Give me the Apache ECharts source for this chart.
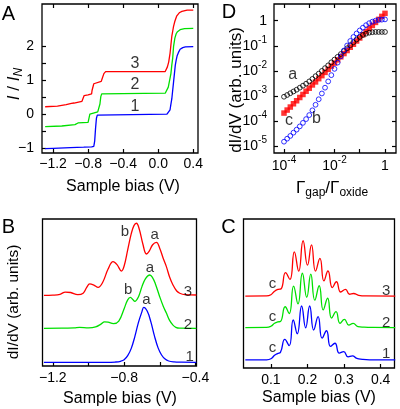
<!DOCTYPE html>
<html><head><meta charset="utf-8">
<script src="https://cdn.jsdelivr.net/npm/echarts@6/dist/echarts.min.js"></script>
<style>html,body{margin:0;padding:0;background:#fff}#c{width:400px;height:409px}</style>
</head><body><div id="c"></div>
<script>
// ---------- Panel A: I/I_N vs sample bias (V) ----------
const aBlue = [[-1.29,-1.02],[-1.2,-1.01],[-1.0,-0.99],[-0.85,-0.975],[-0.76,-0.965],[-0.735,-0.95],[-0.725,-0.8],[-0.715,-0.42],[-0.705,-0.12],[-0.695,-0.03],[-0.68,0.0],[0.10,0.0],[0.12,0.03],[0.135,0.13],[0.145,0.3],[0.155,0.45],[0.165,0.7],[0.175,0.95],[0.185,1.2],[0.195,1.45],[0.205,1.6],[0.215,1.72],[0.23,1.82],[0.25,1.92],[0.28,1.97],[0.31,1.99],[0.40,2.0]];
const aGreen = [[-1.29,-0.37],[-1.1,-0.35],[-0.95,-0.31],[-0.93,-0.29],[-0.915,-0.26],[-0.80,-0.24],[-0.79,-0.2],[-0.78,0.0],[-0.77,0.05],[-0.69,0.07],[-0.675,0.1],[-0.665,0.3],[-0.655,0.52],[-0.645,0.6],[-0.63,0.62],[0.08,0.62],[0.10,0.66],[0.115,0.8],[0.13,1.0],[0.145,1.2],[0.155,1.45],[0.165,1.65],[0.175,2.0],[0.19,2.25],[0.205,2.38],[0.22,2.44],[0.25,2.5],[0.30,2.53],[0.40,2.54]];
const aRed = [[-1.29,0.22],[-1.15,0.24],[-1.05,0.28],[-0.99,0.32],[-0.96,0.33],[-0.95,0.36],[-0.87,0.38],[-0.86,0.42],[-0.845,0.55],[-0.80,0.57],[-0.76,0.6],[-0.755,0.7],[-0.735,0.9],[-0.72,0.95],[-0.65,0.97],[-0.64,1.05],[-0.62,1.2],[-0.60,1.26],[0.08,1.26],[0.095,1.3],[0.105,1.4],[0.12,1.55],[0.135,1.8],[0.145,2.05],[0.155,2.3],[0.165,2.45],[0.175,2.6],[0.19,2.75],[0.21,2.9],[0.24,3.0],[0.27,3.04],[0.33,3.08],[0.40,3.08]];
const aXTicks = [-1.2,-0.8,-0.4,0,0.4];
const aYTicks = [-1,-0.5,0,0.5,1,1.5,2];
const aYLabels = [-1,0,1,2];

// ---------- Panel B: dI/dV (arb. units) vs bias ----------
const bBlue = [[-1.25,0.25],[-0.90,0.25],[-0.85,0.27],[-0.82,0.32],[-0.80,0.42],[-0.78,0.70],[-0.76,1.20],[-0.74,2.00],[-0.72,2.95],[-0.70,3.70],[-0.69,3.99],[-0.67,3.72],[-0.65,3.00],[-0.63,2.05],[-0.61,1.25],[-0.59,0.75],[-0.57,0.47],[-0.55,0.34],[-0.52,0.28],[-0.48,0.26],[-0.395,0.25]];
const bGreen = [[-1.25,2.56],[-1.15,2.57],[-1.08,2.6],[-1.05,2.63],[-1.0,2.6],[-0.96,2.66],[-0.93,2.85],[-0.91,3.0],[-0.89,2.98],[-0.86,2.88],[-0.83,3.05],[-0.80,3.9],[-0.78,4.5],[-0.765,4.67],[-0.75,4.5],[-0.74,4.4],[-0.72,4.7],[-0.70,5.4],[-0.68,5.95],[-0.656,6.19],[-0.64,6.0],[-0.625,5.6],[-0.60,4.7],[-0.58,4.05],[-0.563,3.6],[-0.545,3.1],[-0.526,2.78],[-0.51,2.63],[-0.49,2.57],[-0.395,2.56]];
const bRed = [[-1.25,4.80],[-1.2,4.82],[-1.16,4.88],[-1.13,5.03],[-1.10,5.0],[-1.06,4.85],[-1.03,4.95],[-1.01,5.35],[-0.993,5.58],[-0.97,5.5],[-0.946,5.35],[-0.92,5.7],[-0.89,6.6],[-0.862,7.1],[-0.84,6.9],[-0.815,6.46],[-0.80,6.8],[-0.78,7.9],[-0.76,9.0],[-0.745,9.55],[-0.731,9.71],[-0.715,9.3],[-0.695,8.3],[-0.675,7.62],[-0.66,7.8],[-0.64,8.25],[-0.619,8.41],[-0.60,8.0],[-0.58,7.3],[-0.563,6.76],[-0.545,6.05],[-0.526,5.51],[-0.505,5.1],[-0.488,4.95],[-0.46,4.85],[-0.395,4.83]];
const bXTicks = [-1.2,-1.0,-0.8,-0.6,-0.4];
const bXLabels = [-1.2,-0.8,-0.4];

// ---------- Panel C ----------
const cBlue = [[0.030,0.54],[0.088,0.55],[0.100,0.62],[0.110,0.85],[0.118,0.97],[0.126,1.05],[0.138,1.92],[0.150,1.5],[0.161,3.22],[0.172,2.3],[0.184,4.16],[0.195,2.7],[0.206,4.16],[0.217,2.55],[0.229,3.45],[0.240,2.0],[0.252,2.5],[0.263,1.45],[0.275,1.66],[0.287,1.0],[0.299,1.1],[0.311,0.75],[0.323,0.81],[0.335,0.64],[0.350,0.58],[0.37,0.55],[0.44,0.54]];
const cGreen = [[0.030,2.71],[0.088,2.72],[0.100,2.8],[0.110,3.0],[0.118,3.09],[0.126,3.12],[0.139,4.11],[0.150,3.65],[0.162,5.5],[0.174,4.3],[0.186,6.36],[0.198,4.75],[0.209,6.3],[0.220,4.55],[0.232,5.52],[0.243,3.9],[0.255,4.68],[0.266,3.35],[0.278,3.78],[0.289,3.0],[0.301,3.26],[0.313,2.88],[0.325,3.0],[0.338,2.78],[0.355,2.74],[0.38,2.72],[0.44,2.71]];
const cRed = [[0.030,4.83],[0.088,4.84],[0.100,4.92],[0.110,5.15],[0.120,5.28],[0.128,5.32],[0.140,6.4],[0.152,5.95],[0.164,7.8],[0.176,6.5],[0.188,8.54],[0.200,6.9],[0.211,8.26],[0.222,6.5],[0.234,7.36],[0.245,5.85],[0.256,6.51],[0.268,5.4],[0.279,5.79],[0.291,5.1],[0.304,5.28],[0.315,4.95],[0.326,5.0],[0.340,4.88],[0.36,4.84],[0.44,4.83]];
const cXTicks = [0.1,0.2,0.3,0.4];

// ---------- Panel D: log10 values ----------
const dLogX = [-4.000,-3.875,-3.750,-3.625,-3.500,-3.375,-3.250,-3.125,-3.000,-2.875,-2.750,-2.625,-2.500,-2.375,-2.250,-2.125,-2.000,-1.875,-1.750,-1.625,-1.500,-1.375,-1.250,-1.125,-1.000,-0.875,-0.750,-0.625,-0.500,-0.375,-0.250,-0.125,0.000];
const dLogA = [-3.03,-2.96,-2.89,-2.82,-2.75,-2.67,-2.59,-2.51,-2.42,-2.32,-2.21,-2.11,-2.00,-1.89,-1.78,-1.66,-1.55,-1.44,-1.33,-1.21,-1.10,-0.98,-0.86,-0.75,-0.65,-0.57,-0.52,-0.48,-0.46,-0.45,-0.45,-0.45,-0.45];
const dLogB = [-4.82,-4.70,-4.59,-4.46,-4.34,-4.21,-4.07,-3.92,-3.76,-3.57,-3.35,-3.13,-2.90,-2.67,-2.42,-2.17,-1.92,-1.67,-1.42,-1.19,-0.99,-0.81,-0.65,-0.51,-0.39,-0.28,-0.18,-0.10,-0.04,0.00,0.03,0.04,0.05];
const dLogC = [-3.68,-3.56,-3.44,-3.31,-3.19,-3.06,-2.94,-2.81,-2.69,-2.56,-2.44,-2.31,-2.19,-2.06,-1.94,-1.81,-1.69,-1.56,-1.44,-1.31,-1.19,-1.06,-0.94,-0.81,-0.69,-0.56,-0.44,-0.31,-0.19,-0.07,0.05,0.17,0.29];
const dXTicks = [-4,-3,-2,-1,0];
const dXLabels = [-4,-2,0];
const dYTicks = [-5,-4,-3,-2,-1,0];

// ---------- styling ----------
const FONT = '"Liberation Sans", Arial, Helvetica, sans-serif';
const RED = '#ff0000', GREEN = '#00e000', BLUE = '#0000ff';
const fmtDec = v => (Math.abs(v) < 1e-9 ? '0.0' : v.toFixed(1)).replace('-', '\u2212');
const fmtInt = v => String(Math.round(v)).replace('-', '\u2212');
const fmtPow = v => { v = Math.round(v); return v === 0 ? '{b|1}' : '{b|10}{s|' + (v < 0 ? '-' : '') + Math.abs(v) + '}'; };
const powRich = { b: { fontSize: 14, lineHeight: 22, fontFamily: FONT, color: '#000' }, s: { fontSize: 10, lineHeight: 12, verticalAlign: 'top', fontFamily: FONT, color: '#000' } };

function gridBox(left, top, width, height) {
  return { left, top, width, height, show: true, borderColor: '#000', borderWidth: 1.3, backgroundColor: 'transparent', containLabel: false };
}
function axis(o) {
  return {
    type: 'value', gridIndex: o.g, min: o.min, max: o.max, position: o.pos,
    axisLine: { show: false, onZero: false }, splitLine: { show: false },
    axisTick: o.ticks ? { show: true, inside: true, length: 4, customValues: o.ticks, lineStyle: { color: '#000', width: 1.2 } } : { show: false },
    axisLabel: o.labels ? { show: true, customValues: o.labels, formatter: o.fmt, margin: o.margin, fontSize: 14, fontFamily: FONT, color: '#000', rich: o.rich } : { show: false }
  };
}
function line(data, color, xi, yi, smooth) {
  return { type: 'line', data, xAxisIndex: xi, yAxisIndex: yi, showSymbol: false, symbol: 'none', smooth: smooth, lineStyle: { color, width: 1.3 }, itemStyle: { color }, z: 3, silent: true };
}
function notes(items, xi, yi, size) {
  return { type: 'scatter', xAxisIndex: xi, yAxisIndex: yi, symbolSize: 0, silent: true, z: 5,
    data: items.map(t => ({ value: [t[0], t[1]], name: t[2] })),
    label: { show: true, position: 'inside', formatter: '{b}', fontSize: size || 15, fontFamily: FONT, color: '#000' } };
}
const zip = (xs, ys) => xs.map((x, i) => [x, ys[i]]);

const option = {
  animation: false,
  backgroundColor: '#fff',
  grid: [gridBox(42, 4, 156, 149), gridBox(274, 4, 122, 149), gridBox(42.5, 219, 154, 147), gridBox(243.5, 219, 151, 149)],
  xAxis: [
    axis({ g: 0, min: -1.326, max: 0.454, pos: 'bottom', ticks: aXTicks, labels: aXTicks, fmt: fmtDec, margin: 4 }),
    axis({ g: 0, min: -1.326, max: 0.454, pos: 'top', ticks: aXTicks }),
    axis({ g: 1, min: -4.396, max: 0.436, pos: 'bottom', ticks: dXTicks, labels: dXLabels, fmt: fmtPow, margin: 2, rich: powRich }),
    axis({ g: 1, min: -4.396, max: 0.436, pos: 'top', ticks: dXTicks }),
    axis({ g: 2, min: -1.258, max: -0.394, pos: 'bottom', ticks: bXTicks, labels: bXLabels, fmt: fmtDec, margin: 5 }),
    axis({ g: 3, min: 0.025, max: 0.438, pos: 'bottom', ticks: cXTicks, labels: cXTicks, fmt: fmtDec, margin: 5 })
  ],
  yAxis: [
    axis({ g: 0, min: -1.149, max: 3.26, pos: 'left', ticks: aYTicks, labels: aYLabels, fmt: fmtInt, margin: 8 }),
    axis({ g: 1, min: -5.27, max: 0.663, pos: 'left', ticks: dYTicks, labels: dYTicks, fmt: fmtPow, margin: 7, rich: powRich }),
    axis({ g: 1, min: -5.27, max: 0.663, pos: 'right', ticks: dYTicks }),
    axis({ g: 2, min: 0, max: 10, pos: 'left' }),
    axis({ g: 3, min: 0, max: 10, pos: 'left' })
  ],
  series: [
    line(aBlue, BLUE, 0, 0, false), line(aGreen, GREEN, 0, 0, false), line(aRed, RED, 0, 0, false),
    notes([[-0.265, 1.51, '3'], [-0.265, 0.87, '2'], [-0.265, 0.23, '1']], 0, 0, 16),
    { type: 'scatter', xAxisIndex: 2, yAxisIndex: 1, data: zip(dLogX, dLogC), symbol: 'rect', symbolSize: 5.5, itemStyle: { color: RED }, silent: true, z: 2 },
    { type: 'scatter', xAxisIndex: 2, yAxisIndex: 1, data: zip(dLogX, dLogA), symbol: 'circle', symbolSize: 4.8, itemStyle: { color: 'rgba(0,0,0,0)', borderColor: '#000', borderWidth: 1 }, silent: true, z: 3 },
    { type: 'scatter', xAxisIndex: 2, yAxisIndex: 1, data: zip(dLogX, dLogB), symbol: 'circle', symbolSize: 4.8, itemStyle: { color: 'rgba(0,0,0,0)', borderColor: BLUE, borderWidth: 1 }, silent: true, z: 4 },
    notes([[-3.66, -2.15, 'a'], [-3.80, -3.98, 'c'], [-2.71, -3.90, 'b']], 2, 1, 16),
    line(bBlue, BLUE, 4, 3, 0.4), line(bGreen, GREEN, 4, 3, 0.4), line(bRed, RED, 4, 3, 0.4),
    notes([[-0.796, 9.14, 'b'], [-0.628, 8.91, 'a'], [-0.656, 6.65, 'a'], [-0.778, 5.17, 'b'], [-0.675, 4.49, 'a'], [-0.442, 5.05, '3'], [-0.442, 2.79, '2'], [-0.432, 0.63, '1']], 4, 3, 15),
    line(cBlue, BLUE, 5, 4, 0.5), line(cGreen, GREEN, 5, 4, 0.5), line(cRed, RED, 5, 4, 0.5),
    notes([[0.1046, 5.68, 'c'], [0.1046, 3.44, 'c'], [0.1046, 1.32, 'c'], [0.4155, 5.19, '3'], [0.4155, 3.04, '2'], [0.4155, 0.94, '1']], 5, 4, 15)
  ],
  graphic: [
    { type: 'text', x: 8.5, y: 14.5, style: { text: 'A', fontSize: 20, fontFamily: FONT, fill: '#000', align: 'center', verticalAlign: 'middle' } },
    { type: 'text', x: 229, y: 12.5, style: { text: 'D', fontSize: 20, fontFamily: FONT, fill: '#000', align: 'center', verticalAlign: 'middle' } },
    { type: 'text', x: 8.5, y: 227.5, style: { text: 'B', fontSize: 20, fontFamily: FONT, fill: '#000', align: 'center', verticalAlign: 'middle' } },
    { type: 'text', x: 228.5, y: 227.5, style: { text: 'C', fontSize: 20, fontFamily: FONT, fill: '#000', align: 'center', verticalAlign: 'middle' } },
    { type: 'text', x: 14, y: 84, rotation: Math.PI / 2, style: { text: '{i|I}{n| / }{i|I}{s|N}', align: 'center', verticalAlign: 'middle', fill: '#000',
      rich: { i: { fontSize: 17, fontStyle: 'italic', fontFamily: FONT, lineHeight: 22, fill: '#000' }, n: { fontSize: 17, fontFamily: FONT, lineHeight: 22, fill: '#000' }, s: { fontSize: 12, fontStyle: 'italic', fontFamily: FONT, lineHeight: 12, verticalAlign: 'bottom', fill: '#000' } } } },
    { type: 'text', x: 123, y: 187, style: { text: 'Sample bias (V)', fontSize: 16, fontFamily: FONT, fill: '#000', align: 'center', verticalAlign: 'middle' } },
    { type: 'text', x: 236, y: 90, rotation: Math.PI / 2, style: { text: 'dI/dV (arb. units)', fontSize: 17, fontFamily: FONT, fill: '#000', align: 'center', verticalAlign: 'middle' } },
    { type: 'text', x: 332, y: 188, style: { text: '{g|\u0393}{s|gap}{g|/\u0393}{s|oxide}', align: 'center', verticalAlign: 'middle', fill: '#000',
      rich: { g: { fontSize: 17, fontFamily: FONT, lineHeight: 22, fill: '#000' }, s: { fontSize: 12, fontFamily: FONT, lineHeight: 12, verticalAlign: 'bottom', fill: '#000' } } } },
    { type: 'text', x: 13.5, y: 302, rotation: Math.PI / 2, style: { text: 'dI/dV (arb. units)', fontSize: 15.5, fontFamily: FONT, fill: '#000', align: 'center', verticalAlign: 'middle' } },
    { type: 'text', x: 120, y: 399, style: { text: 'Sample bias (V)', fontSize: 16, fontFamily: FONT, fill: '#000', align: 'center', verticalAlign: 'middle' } },
    { type: 'text', x: 319, y: 398, style: { text: 'Sample bias (V)', fontSize: 16, fontFamily: FONT, fill: '#000', align: 'center', verticalAlign: 'middle' } }
  ]
};
const chart = echarts.init(document.getElementById('c'), null, { renderer: 'canvas' });
chart.setOption(option);
</script>
</body></html>
